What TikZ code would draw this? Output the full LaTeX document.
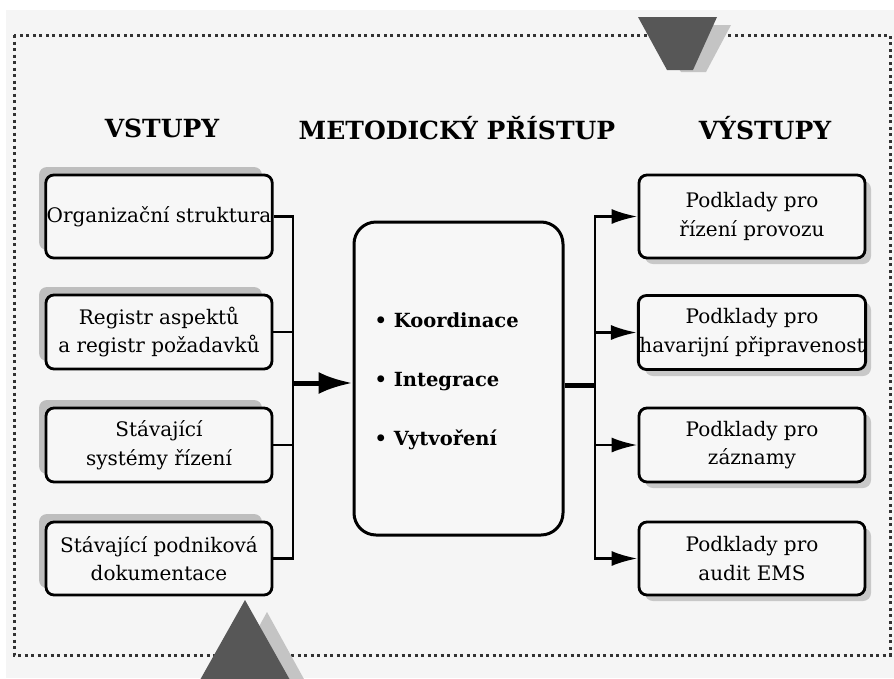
\documentclass[tikz,border=0pt]{standalone}
\usepackage{fontspec}
\setmainfont{DejaVu Serif}
\usetikzlibrary{arrows.meta}
\definecolor{bgc}{HTML}{F5F5F5}
\definecolor{dotc}{HTML}{333333}
\definecolor{darktri}{HTML}{575757}
\definecolor{lighttri}{HTML}{C4C4C4}
\definecolor{shadl}{HTML}{BEBEBE}
\definecolor{shadr}{HTML}{C8C8C8}
\begin{document}
\begin{tikzpicture}[x=1pt,y=-1pt,
  box/.style={draw=black, line width=2.8pt, rounded corners=8pt, fill=white!97!black,
    minimum width=226pt, align=center, inner sep=1pt,
    font=\fontsize{20}{28.5}\selectfont},
  lshadow/.style={fill=shadl, rounded corners=8pt},
  rshadow/.style={fill=shadr, rounded corners=8pt},
  head/.style={font=\fontsize{25}{28}\selectfont\bfseries},
  conn/.style={line width=2.8pt},
  outarrow/.style={line width=2.8pt, -{Latex[length=26pt,width=15pt]}},
  bigarrow/.style={line width=5pt, -{Latex[length=34pt,width=22pt]}},
  bullet/.style={font=\fontsize{19.5}{22}\selectfont\bfseries, anchor=west}
]
\useasboundingbox (0,0) rectangle (894,678);
\fill[white] (0,0) rectangle (894,678);
\fill[bgc] (6,10) rectangle (894,678);
% dotted frame
\draw[dotc, line width=3pt, dash pattern=on 3pt off 3.5pt] (14,35) rectangle (890,655);
% top marker
\fill[lighttri] (651,25) -- (731,25) -- (706,72) -- (681,72) -- cycle;
\fill[darktri] (638,17) -- (717,17) -- (693,70) -- (667,70) -- cycle;
% bottom marker
\fill[lighttri] (267,612) -- (310,690) -- (224,690) -- cycle;
\fill[darktri] (245,600) -- (290,680) -- (200,680) -- cycle;
% headers
\node[head] (hin) at (162,128) {VSTUPY};
\node[head] (hmid) at (457,128) {METODICKÝ PŘÍSTUP};
\node[head] (hout) at (765,128) {VÝSTUPY};
% left shadows
\fill[lshadow] (39,167) rectangle (262,250);
\fill[lshadow] (39,287) rectangle (262,361);
\fill[lshadow] (39,400) rectangle (262,474);
\fill[lshadow] (39,514) rectangle (262,588);
% right shadows
\fill[rshadow] (645,181) rectangle (871,264);
\fill[rshadow] (645,302) rectangle (871,376);
\fill[rshadow] (645,414) rectangle (871,488);
\fill[rshadow] (645,528) rectangle (871,601);
% left boxes
\node[box, minimum height=83pt] (l1) at (159,216.5) {Organizační struktura};
\node[box, minimum height=74pt] (l2) at (159,332) {Registr aspektů\\a registr požadavků};
\node[box, minimum height=74pt] (l3) at (159,445) {Stávající\\systémy řízení};
\node[box, minimum height=73pt] (l4) at (159,558.5) {Stávající podniková\\dokumentace};
% right boxes
\node[box, minimum height=83pt] (r1) at (752,216.5) {Podklady pro\\řízení provozu};
\node[box, minimum height=74pt] (r2) at (752,332.5) {Podklady pro\\havarijní připravenost};
\node[box, minimum height=74pt] (r3) at (752,445) {Podklady pro\\záznamy};
\node[box, minimum height=73pt] (r4) at (752,558.5) {Podklady pro\\audit EMS};
% centre box
\node[draw=black, line width=3pt, rounded corners=22pt, fill=white!97!black,
  minimum width=209pt, minimum height=313pt] (c) at (458.5,378.5) {};
\node[bullet] (k1) at (371,320) {• Koordinace};
\node[bullet] (k2) at (371,382) {• Integrace};
\node[bullet] (k3) at (371,440) {• Vytvoření};
% junctions
\coordinate (jl) at (293,383);
\coordinate (jr) at (595,385);
% left connectors
\draw[conn] (l1.east) -| (jl);
\draw[conn] (l2.east) -| (jl);
\draw[conn] (l3.east) -| (jl);
\draw[conn] (l4.east) -| (jl);
\draw[bigarrow] (jl) -- (jl -| c.west);
% right connectors
\draw[line width=5pt] (c.east |- jr) -- (jr);
\draw[outarrow] (jr) |- (r1.west);
\draw[outarrow] (jr) |- (r2.west);
\draw[outarrow] (jr) |- (r3.west);
\draw[outarrow] (jr) |- (r4.west);
\end{tikzpicture}
\end{document}
